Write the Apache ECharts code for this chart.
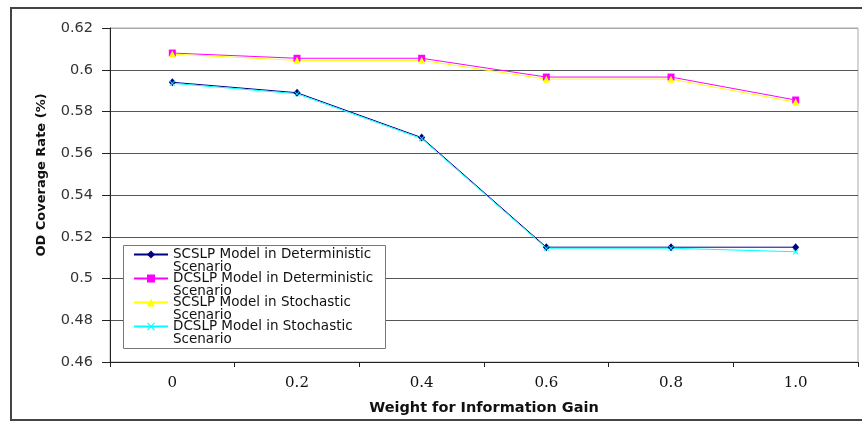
<!DOCTYPE html>
<html>
<head>
<meta charset="utf-8">
<title>OD Coverage Rate vs Weight for Information Gain</title>
<script src="https://cdn.jsdelivr.net/npm/echarts@6/dist/echarts.min.js"></script>
<style>
  html, body { margin: 0; padding: 0; background: #fff; }
  #chart { width: 862px; height: 422px; }
</style>
</head>
<body>
<div id="chart"></div>
<script>
// Weight for information gain (x categories)
const weights = ['0', '0.2', '0.4', '0.6', '0.8', '1.0'];

// OD coverage rate per model / scenario
const scslpDeterministic = [0.594, 0.589, 0.5675, 0.515, 0.515, 0.515];
const dcslpDeterministic = [0.608, 0.6055, 0.6055, 0.5965, 0.5965, 0.5855];
const scslpStochastic    = [0.6075, 0.6045, 0.6045, 0.5955, 0.5955, 0.5845];
const dcslpStochastic    = [0.5935, 0.5885, 0.567, 0.5145, 0.5145, 0.5128];

const seriesNames = [
  'SCSLP Model in Deterministic Scenario',
  'DCSLP Model in Deterministic Scenario',
  'SCSLP Model in Stochastic Scenario',
  'DCSLP Model in Stochastic Scenario'
];

// y axis range
const yMin = 0.46, yMax = 0.62, yStep = 0.02;

const crossPath = 'path://M0,1 L1,0 L5,4 L9,0 L10,1 L6,5 L10,9 L9,10 L5,6 L1,10 L0,9 L4,5 Z';

const sansFont = '"DejaVu Sans", Arial, sans-serif';

function lineSeries(name, data, color, symbol, size) {
  return {
    name: name,
    type: 'line',
    data: data,
    symbol: symbol,
    symbolSize: size,
    showSymbol: true,
    lineStyle: { color: color, width: 1 },
    itemStyle: { color: color },
    emphasis: { disabled: true },
    animation: false
  };
}

const chart = echarts.init(document.getElementById('chart'), null, { renderer: 'canvas' });

chart.setOption({
  backgroundColor: '#fff',
  animation: false,
  grid: {
    left: 110, right: 4, top: 28, bottom: 60,
    show: true, borderColor: '#aaa', borderWidth: 1, backgroundColor: 'transparent'
  },
  graphic: [
    {
      // outer chart frame
      type: 'rect', z: 0, silent: true,
      shape: { x: 11, y: 8, width: 870, height: 412 },
      style: { fill: 'none', stroke: '#444', lineWidth: 2 }
    },
    {
      // legend box
      type: 'rect', z: 5, silent: true,
      shape: { x: 123.5, y: 245.5, width: 262, height: 103 },
      style: { fill: '#fff', stroke: '#777', lineWidth: 1 }
    }
  ],
  legend: {
    z: 6,
    orient: 'vertical',
    left: 133, top: 235,
    padding: 0,
    itemGap: -15,
    itemWidth: 34, itemHeight: 10,
    data: seriesNames,
    formatter: function (name) {
      const cut = name.lastIndexOf(' ');
      return '\n' + name.slice(0, cut) + '\n' + name.slice(cut + 1);
    },
    textStyle: { fontFamily: sansFont, fontSize: 13.5, lineHeight: 12.5, color: '#111' }
  },
  xAxis: {
    type: 'category',
    data: weights,
    boundaryGap: true,
    name: 'Weight for Information Gain',
    nameLocation: 'middle',
    nameGap: 39,
    nameTextStyle: { fontFamily: sansFont, fontWeight: 'bold', fontSize: 14.5, color: '#111' },
    axisLine: { lineStyle: { color: '#222', width: 1 } },
    axisTick: { show: true, length: 5, lineStyle: { color: '#222' } },
    axisLabel: { margin: 14, fontFamily: '"DejaVu Serif", "Liberation Serif", serif', fontSize: 15, color: '#111' },
    splitLine: { show: false }
  },
  yAxis: {
    type: 'value',
    min: yMin, max: yMax, interval: yStep,
    name: 'OD Coverage Rate (%)',
    nameLocation: 'middle',
    nameGap: 62,
    nameTextStyle: { fontFamily: sansFont, fontWeight: 'bold', fontSize: 13, color: '#111', padding: [0, 0, 0, 40] },
    axisLine: { show: true, lineStyle: { color: '#222', width: 1 } },
    axisTick: { show: true, length: 8, lineStyle: { color: '#222' } },
    axisLabel: {
      margin: 17, fontFamily: sansFont, fontSize: 14.5, color: '#333',
      formatter: function (v) { return String(parseFloat(v.toFixed(2))); }
    },
    splitLine: {
      show: true,
      lineStyle: { color: ['#555', '#555', '#555', '#555', '#555', '#555', '#555', '#555', '#aaa'], width: 1 }
    }
  },
  series: [
    lineSeries(seriesNames[0], scslpDeterministic, '#000080', 'diamond', [7, 8]),
    lineSeries(seriesNames[1], dcslpDeterministic, '#ff00ff', 'rect', 7),
    lineSeries(seriesNames[2], scslpStochastic, '#ffff00', 'triangle', 7),
    lineSeries(seriesNames[3], dcslpStochastic, '#00ffff', crossPath, 6)
  ]
});
</script>
</body>
</html>
